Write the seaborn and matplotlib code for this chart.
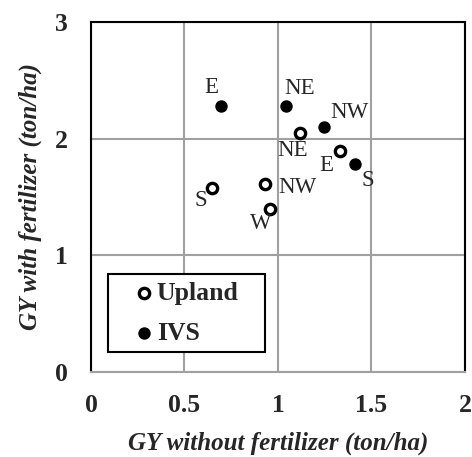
import matplotlib
matplotlib.use('Agg')
import matplotlib.pyplot as plt
from matplotlib.patches import Rectangle
import seaborn as sns
import pandas as pd

# Upland (hollow)
upland_x = [1.12, 1.33, 0.645, 0.93, 0.955]
upland_y = [2.05, 1.89, 1.58, 1.61, 1.40]
upland_lab = ['NE', 'E', 'S', 'NW', 'W']

# IVS (filled)
ivs_x = [0.695, 1.045, 1.245, 1.41]
ivs_y = [2.28, 2.28, 2.10, 1.78]
ivs_lab = ['E', 'NE', 'NW', 'S']

# label offsets in pixels (dx right, dy down)
upland_off = [(-8, 18), (-13, 14), (-11, 13), (33, 3), (-9, 15)]
ivs_off = [(-10, -18), (13, -17), (26, -14), (13, 16)]

sns.set_style('white')
plt.rcParams['font.family'] = ['Liberation Serif', 'DejaVu Serif']

fig = plt.figure(figsize=(4.72, 4.57), dpi=100)
ax = fig.add_axes([0.1928, 0.186, 0.7922, 0.766])

df_up = pd.DataFrame({'x': upland_x, 'y': upland_y})
df_ivs = pd.DataFrame({'x': ivs_x, 'y': ivs_y})

sns.scatterplot(data=df_up, x='x', y='y', ax=ax, marker='o', s=55,
                facecolor='white', edgecolor='black', linewidth=2.4,
                label='Upland', zorder=3)
sns.scatterplot(data=df_ivs, x='x', y='y', ax=ax, marker='o', s=80,
                color='black', edgecolor='black', linewidth=0,
                label='IVS', zorder=3)

for x, y, t, (dx, dy) in zip(upland_x, upland_y, upland_lab, upland_off):
    ax.annotate(t, (x, y), xytext=(dx * 0.72, -dy * 0.72), textcoords='offset points',
                ha='center', va='center', fontsize=16.5)
for x, y, t, (dx, dy) in zip(ivs_x, ivs_y, ivs_lab, ivs_off):
    ax.annotate(t, (x, y), xytext=(dx * 0.72, -dy * 0.72), textcoords='offset points',
                ha='center', va='center', fontsize=16.5)

ax.set_xlim(0, 2)
ax.set_ylim(0, 3)
ax.set_xticks([0, 0.5, 1, 1.5, 2])
ax.set_xticklabels(['0', '0.5', '1', '1.5', '2'])
ax.set_yticks([0, 1, 2, 3])
ax.grid(True, color='#a0a0a0', linewidth=1.5)
ax.set_axisbelow(True)
ax.tick_params(length=0, labelsize=18.5)
ax.tick_params(axis='x', pad=16)
ax.tick_params(axis='y', pad=17)
for lab in ax.get_xticklabels() + ax.get_yticklabels():
    lab.set_fontweight('bold')

for side in ['left', 'top', 'right']:
    ax.spines[side].set_color('black')
    ax.spines[side].set_linewidth(1.5)
ax.spines['bottom'].set_color('#a0a0a0')
ax.spines['bottom'].set_linewidth(1.5)

ax.set_xlabel('GY without fertilizer (ton/ha)', fontsize=18, fontweight='bold',
              fontstyle='italic', labelpad=10)
ax.set_ylabel('GY with fertilizer (ton/ha)', fontsize=18, fontweight='bold',
              fontstyle='italic', labelpad=9)

# legend box drawn separately so the padding matches the original
ax.add_patch(Rectangle((0.0455, 0.057), 0.42, 0.222, transform=ax.transAxes,
                       facecolor='white', edgecolor='black', linewidth=1.5,
                       zorder=4))
leg = ax.legend(loc='center left', bbox_to_anchor=(0.09, 0.168), frameon=False,
                prop={'weight': 'bold', 'size': 18.5}, handletextpad=0.1,
                handlelength=0.8, borderpad=0.35, labelspacing=0.65,
                borderaxespad=0)
leg.set_zorder(5)
sizes = [55, 80]
for h, sz in zip(leg.legend_handles, sizes):
    h.set_sizes([sz])

fig.savefig('out.png', dpi=100)
